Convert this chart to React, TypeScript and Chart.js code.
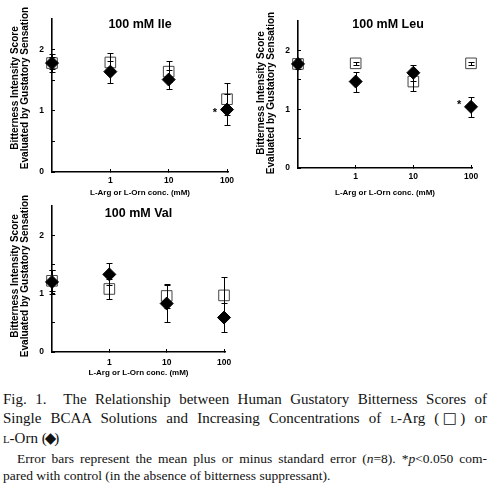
import React, { useEffect, useRef } from "react";
import { Chart, registerables } from "chart.js";

Chart.register(...registerables);

// Concentrations (mM); the control (no suppressant) is drawn at the left edge position 0.1
const concentrations = [0.1, 1, 10, 100];
const xTickValues = [1, 10, 100];
const yTickValues = [0, 0.5, 1, 1.5, 2];
const yLabelValues = [0, 1, 2];

const ileArgMean = [1.78, 1.79, 1.64, 1.19];
const ileArgErr = [0.1, 0.16, 0.17, 0.26];
const ileOrnMean = [1.78, 1.64, 1.51, 1.02];
const ileOrnErr = [0.15, 0.18, 0.15, 0.25];
const ileSignificant = [false, false, false, true];

const leuArgMean = [1.77, 1.78, 1.47, 1.78];
const leuArgErr = [0.08, 0.03, 0.16, 0.03];
const leuOrnMean = [1.77, 1.47, 1.62, 1.04];
const leuOrnErr = [0.05, 0.17, 0.14, 0.17];
const leuSignificant = [false, false, false, true];

const valArgMean = [1.22, 1.08, 0.96, 0.97];
const valArgErr = [0.18, 0.17, 0.2, 0.32];
const valOrnMean = [1.2, 1.33, 0.83, 0.59];
const valOrnErr = [0.2, 0.19, 0.32, 0.25];
const valSignificant = [false, false, false, false];

const yTitleLines = ["Bitterness Intensity Score", "Evaluated by Gustatory Sensation"];
const xTitle = "L-Arg or L-Orn conc. (mM)";

const SANS = '"Liberation Sans", Arial, sans-serif';

const errorBarPlugin = {
  id: "errorBars",
  afterDatasetDraw(chart: any, args: any) {
    const ds = chart.data.datasets[args.index];
    const errs: number[] = ds.errors;
    if (!errs) return;
    const ys = chart.scales.y;
    const ctx = chart.ctx;
    ctx.save();
    ctx.strokeStyle = "#000";
    ctx.lineWidth = 1;
    args.meta.data.forEach((el: any, i: number) => {
      const v = ds.data[i].y;
      const x = Math.round(el.x) + 0.5;
      const top = Math.round(ys.getPixelForValue(v + errs[i])) + 0.5;
      const bot = Math.round(ys.getPixelForValue(v - errs[i])) + 0.5;
      ctx.beginPath();
      ctx.moveTo(x, top);
      ctx.lineTo(x, bot);
      ctx.moveTo(x - 3, top);
      ctx.lineTo(x + 3, top);
      ctx.moveTo(x - 3, bot);
      ctx.lineTo(x + 3, bot);
      ctx.stroke();
    });
    ctx.restore();
  },
};

const panelTextPlugin = {
  id: "panelText",
  afterDraw(chart: any, _args: any, opts: any) {
    const { ctx, chartArea: ca } = chart;
    const cx = (ca.left + ca.right) / 2;
    ctx.save();
    ctx.fillStyle = "#000";
    ctx.textAlign = "center";
    ctx.textBaseline = "middle";
    ctx.font = `bold 12.5px ${SANS}`;
    ctx.fillText(opts.title, cx + opts.titleDx, opts.titleY);

    ctx.font = `bold 10px ${SANS}`;
    yTitleLines.forEach((line: string, i: number) => {
      ctx.save();
      ctx.translate(opts.yTitleX[i], opts.yTitleCenter);
      ctx.rotate(-Math.PI / 2);
      ctx.fillText(line, 0, 0);
      ctx.restore();
    });

    ctx.font = `bold 8px ${SANS}`;
    ctx.fillText(xTitle, cx, opts.xTitleY);

    const meta = chart.getDatasetMeta(0);
    ctx.font = `bold 11px ${SANS}`;
    (opts.sig as boolean[]).forEach((s, i) => {
      if (!s) return;
      const el = meta.data[i];
      ctx.fillText("*", el.x - 12, el.y + opts.starDy);
    });
    ctx.restore();
  },
};

type PanelDef = {
  title: string;
  argMean: number[];
  argErr: number[];
  ornMean: number[];
  ornErr: number[];
  sig: boolean[];
  box: { left: number; top: number; width: number; height: number };
  area: { left: number; top: number; right: number; bottom: number };
  titleY: number;
  titleDx: number;
  yTitleX: number[];
  yTitleCenter: number;
  xTitleY: number;
  xTickPad: number;
  starDy: number;
};

const panels: PanelDef[] = [
  {
    title: "100 mM Ile",
    argMean: ileArgMean,
    argErr: ileArgErr,
    ornMean: ileOrnMean,
    ornErr: ileOrnErr,
    sig: ileSignificant,
    box: { left: 0, top: 0, width: 245, height: 200 },
    area: { left: 52, top: 19, right: 228, bottom: 172 },
    titleY: 25,
    titleDx: 0,
    yTitleX: [15, 25],
    yTitleCenter: 88,
    xTitleY: 193,
    xTickPad: 7,
    starDy: 3,
  },
  {
    title: "100 mM Leu",
    argMean: leuArgMean,
    argErr: leuArgErr,
    ornMean: leuOrnMean,
    ornErr: leuOrnErr,
    sig: leuSignificant,
    box: { left: 245, top: 0, width: 245, height: 200 },
    area: { left: 53, top: 21, right: 227, bottom: 168 },
    titleY: 25,
    titleDx: 3,
    yTitleX: [16, 26],
    yTitleCenter: 93,
    xTitleY: 193,
    xTickPad: 7,
    starDy: -2,
  },
  {
    title: "100 mM Val",
    argMean: valArgMean,
    argErr: valArgErr,
    ornMean: valOrnMean,
    ornErr: valOrnErr,
    sig: valSignificant,
    box: { left: 0, top: 190, width: 245, height: 195 },
    area: { left: 52, top: 14, right: 225, bottom: 162 },
    titleY: 24,
    titleDx: 0,
    yTitleX: [15, 25],
    yTitleCenter: 86,
    xTitleY: 183,
    xTickPad: 9,
    starDy: 3,
  },
];

function Panel({ p }: { p: PanelDef }) {
  const ref = useRef<HTMLCanvasElement | null>(null);
  useEffect(() => {
    if (!ref.current) return;
    const tickFont = { family: SANS, size: 8.5, weight: "bold" as const };
    const chart = new Chart(ref.current, {
      type: "scatter",
      data: {
        datasets: [
          {
            label: "L-Orn",
            data: concentrations.map((c, i) => ({ x: c, y: p.ornMean[i] })),
            errors: p.ornErr,
            pointStyle: "rectRot",
            pointRadius: 6.5,
            pointHoverRadius: 6.5,
            backgroundColor: "#000",
            borderColor: "#000",
            borderWidth: 1,
            clip: false,
          } as any,
          {
            label: "L-Arg",
            data: concentrations.map((c, i) => ({ x: c, y: p.argMean[i] })),
            errors: p.argErr,
            pointStyle: "rect",
            pointRadius: 7.5,
            pointHoverRadius: 7.5,
            backgroundColor: "#fff",
            borderColor: "#444",
            borderWidth: 1,
            clip: false,
          } as any,
        ],
      },
      options: {
        responsive: false,
        animation: false,
        events: [],
        layout: {
          padding: {
            left: 0,
            top: p.area.top,
            right: p.box.width - p.area.right,
            bottom: 0,
          },
        },
        plugins: {
          legend: { display: false },
          tooltip: { enabled: false },
          panelText: {
            title: p.title,
            titleY: p.titleY,
            titleDx: p.titleDx,
            yTitleX: p.yTitleX,
            yTitleCenter: p.yTitleCenter,
            xTitleY: p.xTitleY,
            sig: p.sig,
            starDy: p.starDy,
          },
        } as any,
        scales: {
          x: {
            type: "logarithmic",
            min: 0.1,
            max: 104,
            afterBuildTicks: (s: any) => {
              s.ticks = xTickValues.map((v) => ({ value: v }));
            },
            afterFit: (s: any) => {
              s.height = p.box.height - p.area.bottom;
            },
            ticks: {
              callback: (v: any) => String(v),
              font: tickFont,
              color: "#000",
              padding: p.xTickPad,
              maxRotation: 0,
              autoSkip: false,
            },
            grid: { drawOnChartArea: false, drawTicks: true, tickLength: -3, color: "#000", lineWidth: 1 },
            border: { display: true, color: "#000", width: 1.6 },
          },
          y: {
            min: 0,
            max: 2.5,
            afterBuildTicks: (s: any) => {
              s.ticks = yTickValues.map((v) => ({ value: v }));
            },
            afterFit: (s: any) => {
              s.width = p.area.left;
            },
            ticks: {
              callback: (v: any) => (yLabelValues.includes(v) ? String(v) : ""),
              font: tickFont,
              color: "#000",
              padding: 11,
            },
            grid: { drawOnChartArea: false, drawTicks: true, tickLength: -3, color: "#000", lineWidth: 1 },
            border: { display: true, color: "#000", width: 1.6 },
          },
        },
      } as any,
      plugins: [errorBarPlugin, panelTextPlugin],
    });
    return () => chart.destroy();
  }, [p]);
  return (
    <canvas
      ref={ref}
      width={p.box.width}
      height={p.box.height}
      style={{
        position: "absolute",
        left: p.box.left,
        top: p.box.top,
        width: p.box.width,
        height: p.box.height,
      }}
    />
  );
}

const SC = ({ children }: { children: React.ReactNode }) => (
  <span style={{ fontSize: "0.72em" }}>{children}</span>
);

const Glyph = ({ children }: { children: React.ReactNode }) => (
  <span style={{ margin: "0 -2px", fontFamily: '"DejaVu Sans", sans-serif' }}>{children}</span>
);

export default function App() {
  const serif = '"Liberation Serif", "Times New Roman", serif';
  const justified: React.CSSProperties = {
    textAlign: "justify",
    textAlignLast: "justify",
    whiteSpace: "nowrap",
  };
  return (
    <div
      style={{
        position: "absolute",
        left: 0,
        top: 0,
        width: 490,
        height: 490,
        background: "#fff",
        overflow: "hidden",
      }}
    >
      {panels.map((p) => (
        <Panel key={p.title} p={p} />
      ))}
      <div
        style={{
          position: "absolute",
          left: 3,
          top: 390,
          width: 484,
          fontFamily: serif,
          fontSize: 15,
          lineHeight: "19px",
          color: "#111",
        }}
      >
        <div style={justified}>
          Fig. 1.{"\u00a0\u00a0"}The Relationship between Human Gustatory Bitterness Scores of
        </div>
        <div style={justified}>
          Single BCAA Solutions and Increasing Concentrations of <SC>L</SC>-Arg (<Glyph>□</Glyph>) or
        </div>
        <div>
          <SC>L</SC>-Orn (<Glyph>◆</Glyph>)
        </div>
      </div>
      <div
        style={{
          position: "absolute",
          left: 3,
          top: 450,
          width: 484,
          fontFamily: serif,
          fontSize: 13.5,
          lineHeight: "17px",
          color: "#111",
        }}
      >
        <div style={{ ...justified, paddingLeft: 14 }}>
          Error bars represent the mean plus or minus standard error (<i>n</i>=8). *<i>p</i>&lt;0.050 com-
        </div>
        <div>pared with control (in the absence of bitterness suppressant).</div>
      </div>
    </div>
  );
}
